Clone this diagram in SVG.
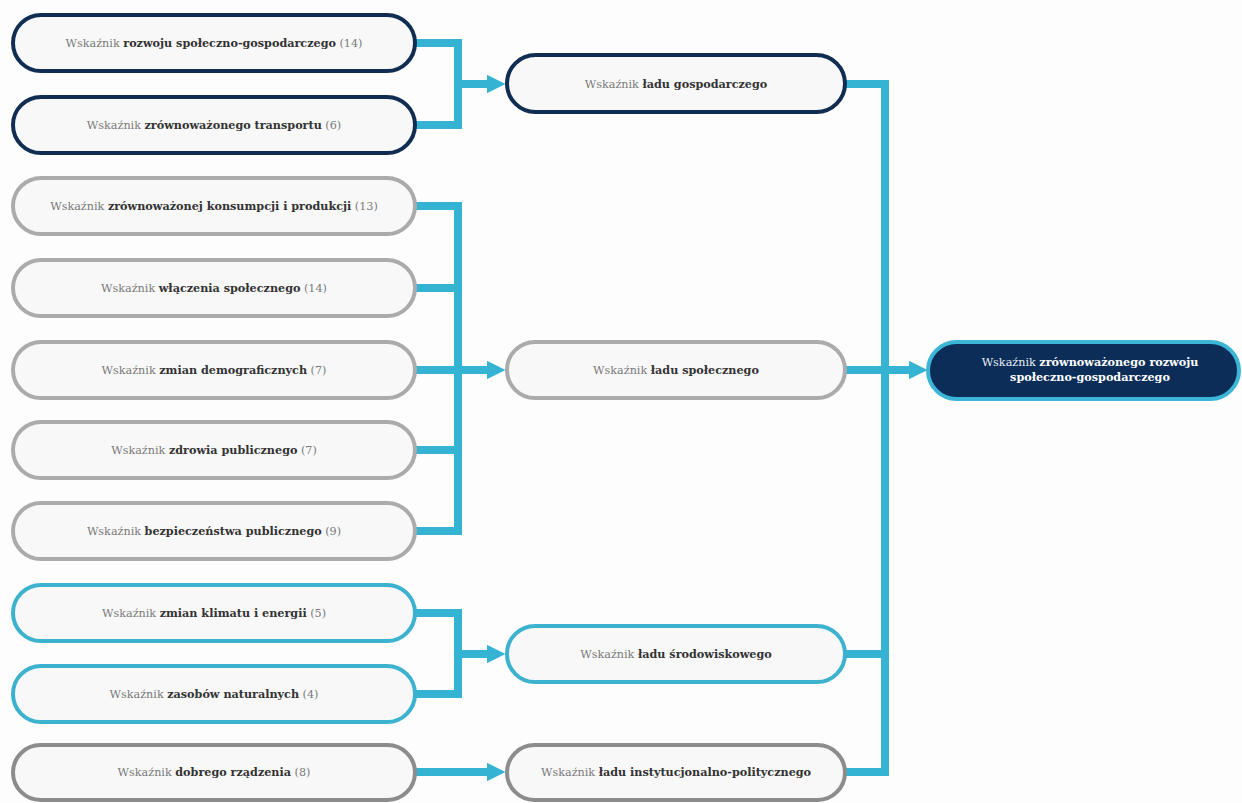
<svg xmlns="http://www.w3.org/2000/svg" width="1242" height="803" viewBox="0 0 1242 803">
<style>
.bg{fill:#fdfdfd}
.box{fill:#f8f8f8;stroke-width:4}
.navy{stroke:#112e52}
.gray{stroke:#ababab}
.dgray{stroke:#8c8c8c}
.cyan{stroke:#3cb2cf}
.main{fill:#0c2d58;stroke:#3cb6d6;stroke-width:4}
text{font-family:"DejaVu Serif","Liberation Serif",serif;font-size:11.2px;text-anchor:middle;fill:#7a7a7a}
.b{font-weight:bold;fill:#333}
.wt{fill:#e8eef5}
.wb{font-weight:bold;fill:#ffffff}
.con{fill:none;stroke:#35b3d2;stroke-width:8;stroke-linejoin:miter;stroke-linecap:butt}
</style>
<defs>
<marker id="ah" viewBox="0 0 10 10" refX="0" refY="5" markerWidth="2.3" markerHeight="2.3" orient="auto" markerUnits="strokeWidth">
<path d="M0,0 L10,5 L0,10 z" fill="#35b3d2"/>
</marker>
</defs>
<rect class="bg" x="0" y="0" width="1242" height="803"/>

<g id="connectors">
<path class="con" d="M415,43 H458 V125 H415"/>
<path class="con" d="M458,84 H487" marker-end="url(#ah)"/>
<path class="con" d="M415,206 H458 V531 H415 M415,288 H458 M415,450 H458"/>
<path class="con" d="M415,370 H487" marker-end="url(#ah)"/>
<path class="con" d="M415,613 H458 V694 H415"/>
<path class="con" d="M458,654 H487" marker-end="url(#ah)"/>
<path class="con" d="M415,772 H487" marker-end="url(#ah)"/>
<path class="con" d="M845,84 H885 V772 H845 M845,654 H885"/>
<path class="con" d="M845,370 H909" marker-end="url(#ah)"/>
</g>

<g id="n1"><rect class="box navy" x="13" y="15" width="402" height="56" rx="28"/><text x="214" y="47">Wskaźnik <tspan class="b">rozwoju społeczno-gospodarczego</tspan> (14)</text></g>
<g id="n2"><rect class="box navy" x="13" y="97" width="402" height="56" rx="28"/><text x="214" y="129">Wskaźnik <tspan class="b">zrównoważonego transportu</tspan> (6)</text></g>
<g id="n3"><rect class="box gray" x="13" y="178" width="402" height="56" rx="28"/><text x="214" y="210">Wskaźnik <tspan class="b">zrównoważonej konsumpcji i produkcji</tspan> (13)</text></g>
<g id="n4"><rect class="box gray" x="13" y="260" width="402" height="56" rx="28"/><text x="214" y="292">Wskaźnik <tspan class="b">włączenia społecznego</tspan> (14)</text></g>
<g id="n5"><rect class="box gray" x="13" y="342" width="402" height="56" rx="28"/><text x="214" y="374">Wskaźnik <tspan class="b">zmian demograficznych</tspan> (7)</text></g>
<g id="n6"><rect class="box gray" x="13" y="422" width="402" height="56" rx="28"/><text x="214" y="454">Wskaźnik <tspan class="b">zdrowia publicznego</tspan> (7)</text></g>
<g id="n7"><rect class="box gray" x="13" y="503" width="402" height="56" rx="28"/><text x="214" y="535">Wskaźnik <tspan class="b">bezpieczeństwa publicznego</tspan> (9)</text></g>
<g id="n8"><rect class="box cyan" x="13" y="585" width="402" height="56" rx="28"/><text x="214" y="617">Wskaźnik <tspan class="b">zmian klimatu i energii</tspan> (5)</text></g>
<g id="n9"><rect class="box cyan" x="13" y="666" width="402" height="56" rx="28"/><text x="214" y="698">Wskaźnik <tspan class="b">zasobów naturalnych</tspan> (4)</text></g>
<g id="n10"><rect class="box dgray" x="13" y="745" width="402" height="55" rx="27.5"/><text x="214" y="776">Wskaźnik <tspan class="b">dobrego rządzenia</tspan> (8)</text></g>

<g id="m1"><rect class="box navy" x="507" y="55" width="338" height="57" rx="28.5"/><text x="676" y="88">Wskaźnik <tspan class="b">ładu gospodarczego</tspan></text></g>
<g id="m2"><rect class="box gray" x="507" y="342" width="338" height="56" rx="28"/><text x="676" y="374">Wskaźnik <tspan class="b">ładu społecznego</tspan></text></g>
<g id="m3"><rect class="box cyan" x="507" y="626" width="338" height="56" rx="28"/><text x="676" y="658">Wskaźnik <tspan class="b">ładu środowiskowego</tspan></text></g>
<g id="m4"><rect class="box dgray" x="507" y="745" width="338" height="55" rx="27.5"/><text x="676" y="776">Wskaźnik <tspan class="b">ładu instytucjonalno-politycznego</tspan></text></g>

<g id="root"><rect class="main" x="928" y="342" width="311" height="57" rx="28.5"/>
<text x="1090" y="366"><tspan class="wt">Wskaźnik </tspan><tspan class="wb">zrównoważonego rozwoju</tspan></text>
<text x="1090" y="381" class="wb">społeczno-gospodarczego</text></g>
</svg>
